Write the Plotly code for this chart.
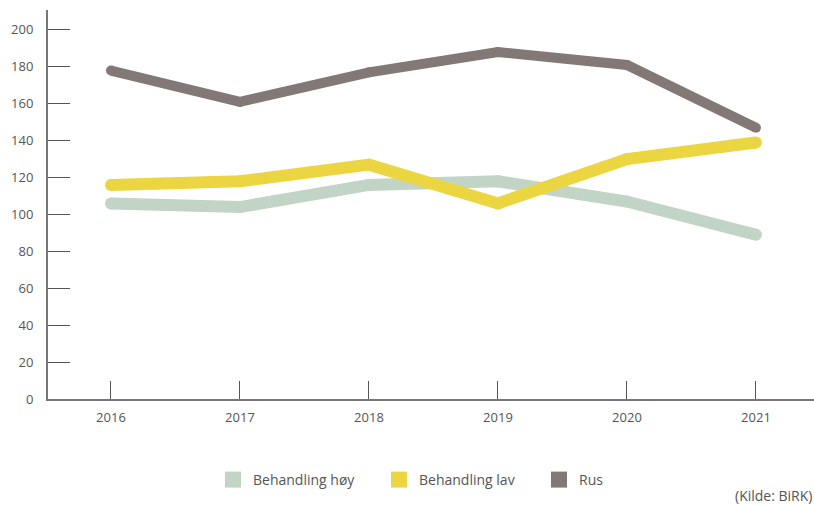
import plotly.graph_objects as go

# Data
years = ["2016", "2017", "2018", "2019", "2020", "2021"]
behandling_hoy = [106, 104, 116, 118, 107, 89]
behandling_lav = [116, 118, 127, 106, 130, 139]
rus = [178, 161, 177, 188, 181, 147]

series = [
    ("Behandling høy", behandling_hoy, "#c2d4c5", 12, "legend", 213),
    ("Behandling lav", behandling_lav, "#ebd540", 12, "legend2", 379),
    ("Rus", rus, "#827876", 10, "legend3", 539),
]

fig = go.Figure()
legends = {}

for name, values, color, width, leg, leg_x in series:
    # the line itself (markers give it round ends)
    fig.add_trace(go.Scatter(
        x=years, y=values, mode="lines+markers", name=name,
        line=dict(color=color, width=width),
        marker=dict(color=color, size=width),
        showlegend=False, hoverinfo="x+y+name",
    ))
    # square legend swatch, one legend per entry so spacing matches
    fig.add_trace(go.Scatter(
        x=[None], y=[None], mode="markers", name=name, legend=leg,
        marker=dict(color=color, size=16, symbol="square"),
    ))
    legends[leg] = dict(
        orientation="h", xref="container", x=leg_x / 814, xanchor="left",
        yref="container", y=1 - 480 / 506, yanchor="middle",
        font=dict(size=14, color="#555"), itemwidth=30,
        bgcolor="rgba(0,0,0,0)",
    )

fig.update_layout(
    width=814, height=506,
    margin=dict(l=48, r=0, t=10, b=107, autoexpand=False),
    plot_bgcolor="white", paper_bgcolor="white",
    font=dict(family="Open Sans, sans-serif", size=13, color="#555"),
    annotations=[dict(
        text="(Kilde: BiRK)", xref="paper", yref="paper",
        x=1, y=-(496 - 399) / 389, xanchor="right", yanchor="middle",
        showarrow=False, font=dict(size=14, color="#555"),
    )],
    **legends,
)

fig.update_xaxes(
    type="category", range=[-0.488, 5.45], automargin=False,
    showline=True, linecolor="#777", linewidth=2,
    ticks="inside", ticklen=18, tickcolor="#555", tickwidth=1,
    ticklabelstandoff=5, showgrid=False, zeroline=False,
)
fig.update_yaxes(
    range=[0, 210.8], automargin=False,
    tickvals=[0, 20, 40, 60, 80, 100, 120, 140, 160, 180, 200],
    showline=True, linecolor="#777", linewidth=2,
    ticks="inside", ticklen=22, tickcolor="#555", tickwidth=1,
    ticklabelstandoff=10, showgrid=False, zeroline=False,
)

# drop the browser's default page margin so the chart fills the window
fig.write_html("out.html", config={"displayModeBar": False},
               post_script="document.body.style.margin='0';")
